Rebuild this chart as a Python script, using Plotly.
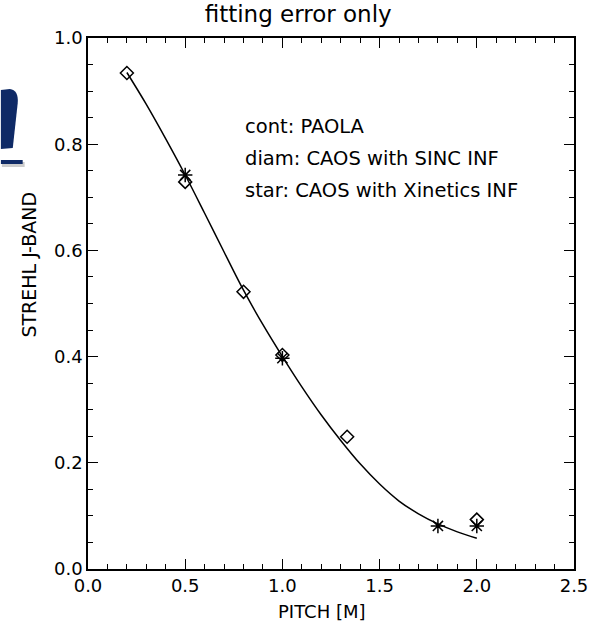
import plotly.graph_objects as go

# PAOLA analytic curve (continuous line)
paola_pitch = [0.2, 0.3, 0.4, 0.5, 0.6, 0.7, 0.8, 0.9, 1.0, 1.1, 1.2, 1.3,
               1.4, 1.5, 1.6, 1.7, 1.8, 1.9, 2.0]
paola_strehl = [0.935, 0.875, 0.81, 0.742, 0.670, 0.597, 0.525, 0.46, 0.40,
                0.343, 0.29, 0.242, 0.198, 0.16, 0.128, 0.104, 0.085, 0.07, 0.058]

# CAOS simulations with SINC influence functions (diamonds)
sinc_pitch = [0.2, 0.5, 0.8, 1.0, 1.333, 2.0]
sinc_strehl = [0.934, 0.729, 0.522, 0.403, 0.249, 0.093]

# CAOS simulations with Xinetics influence functions (stars)
xin_pitch = [0.5, 1.0, 1.8, 2.0]
xin_strehl = [0.742, 0.397, 0.081, 0.081]

legend_lines = ["cont: PAOLA", "diam: CAOS with SINC INF", "star: CAOS with Xinetics INF"]

FONT = "DejaVu Sans"
W, H = 600, 632
L, R, T, B = 88, 21, 38, 63

fig = go.Figure()
fig.add_trace(go.Scatter(x=paola_pitch, y=paola_strehl, mode="lines",
                         line=dict(color="black", width=1.5, shape="spline"),
                         showlegend=False))
fig.add_trace(go.Scatter(x=sinc_pitch, y=sinc_strehl, mode="markers",
                         marker=dict(symbol="diamond-open", size=10, color="black",
                                     line=dict(width=1.5, color="black")),
                         showlegend=False))
fig.add_trace(go.Scatter(x=xin_pitch, y=xin_strehl, mode="markers",
                         marker=dict(symbol="asterisk-open", size=12, color="black",
                                     line=dict(width=1.5, color="black")),
                         showlegend=False))

axis_common = dict(showgrid=False, zeroline=False, showline=True, linecolor="black",
                   linewidth=1.5, mirror="allticks", ticks="inside", ticklen=10,
                   tickwidth=1, tickcolor="black",
                   tickfont=dict(family=FONT, size=18, color="black"))

fig.update_xaxes(range=[0, 2.5], dtick=0.5, tick0=0, tickformat=".1f",
                 minor=dict(dtick=0.1, ticks="inside", ticklen=5, tickcolor="black", tickwidth=1),
                 **axis_common)
fig.update_yaxes(range=[0, 1.0], dtick=0.2, tick0=0, tickformat=".1f",
                 minor=dict(dtick=0.05, ticks="inside", ticklen=5, tickcolor="black", tickwidth=1),
                 **axis_common)


def px(x):
    return (x - L) / (W - L - R)


def py(y):
    return (H - B - y) / (H - T - B)


annotations = [
    dict(text="STREHL J-BAND", x=px(28), y=py(265), xref="paper", yref="paper",
         textangle=-90, showarrow=False, xanchor="center", yanchor="middle",
         font=dict(family=FONT, size=19, color="black")),
    dict(text="PITCH [M]", x=px(324), y=py(611), xref="paper", yref="paper",
         showarrow=False, xanchor="center", yanchor="middle",
         font=dict(family=FONT, size=18, color="black")),
]
for text, yc in zip(legend_lines, [127, 158, 190]):
    annotations.append(dict(text=text, x=px(245), y=py(yc), xref="paper", yref="paper",
                            showarrow=False, xanchor="left", yanchor="middle",
                            font=dict(family=FONT, size=19.5, color="black")))

# fragment of a navy logo at the left edge
navy = "#0f2a66"
glyph = (f"M {px(0)},{py(90)} L {px(9)},{py(89)} Q {px(18)},{py(90)} {px(17)},{py(103)} "
         f"L {px(12)},{py(148)} L {px(0)},{py(149)} Z")
shapes = [
    dict(type="path", path=glyph, xref="paper", yref="paper",
         fillcolor=navy, line=dict(width=0), layer="above"),
    dict(type="rect", x0=px(1), x1=px(24), y0=py(167), y1=py(162), xref="paper", yref="paper",
         fillcolor="#cccccc", line=dict(width=0), layer="above"),
    dict(type="rect", x0=px(0), x1=px(22), y0=py(164), y1=py(160), xref="paper", yref="paper",
         fillcolor=navy, line=dict(width=0), layer="above"),
]

fig.update_layout(
    width=W, height=H,
    margin=dict(l=L, r=R, t=T, b=B),
    paper_bgcolor="white", plot_bgcolor="white",
    title=dict(text="fitting error only", x=px(332), xanchor="center",
               y=1 - 14 / H, yanchor="middle",
               font=dict(family=FONT, size=23, color="black")),
    annotations=annotations,
    shapes=shapes,
)

fig.write_html("out.html")
